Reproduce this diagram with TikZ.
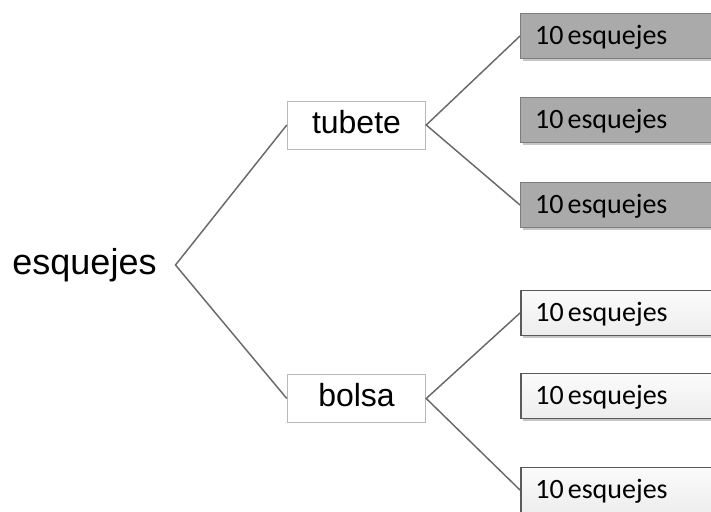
\documentclass[tikz,border=0pt]{standalone}
\usepackage{fontspec}
\setmainfont{Liberation Sans}
\newfontfamily\calibri{Carlito}
\usetikzlibrary{shadows}

\definecolor{linea}{RGB}{105,105,105}
\definecolor{grisoscuro}{RGB}{170,170,170}
\definecolor{bordeoscuro}{RGB}{125,125,125}
\definecolor{bordeclaro}{RGB}{90,90,90}

\begin{document}
\begin{tikzpicture}[x=0.75pt, y=-0.75pt]
	\tikzstyle{every node} = [text=black]
	\tikzstyle{raiz} = [inner xsep=14pt, inner ysep=0pt, text height=20pt, text depth=5.5pt, font=\fontsize{27}{30}\selectfont]
	\tikzstyle{rama} = [draw=gray!55, fill=white, line width=0.6pt, minimum width=104pt, minimum height=36pt, text height=17pt, text depth=5pt, font=\fontsize{24}{28}\selectfont]
	% tight word space in the leaf labels
	\tikzstyle{hoja} = [anchor=west, text width=127pt, align=left, inner xsep=11pt, minimum height=34pt, text height=16pt, text depth=3pt, font=\calibri\fontsize{21}{24}\selectfont, execute at begin node={\spaceskip=3pt\relax}, drop shadow={shadow xshift=1.5pt, shadow yshift=-1.5pt, opacity=0.45}]
	\tikzstyle{oscura} = [hoja, draw=bordeoscuro, fill=grisoscuro, line width=0.8pt]
	\tikzstyle{clara} = [hoja, draw=bordeclaro, top color=gray!3, bottom color=gray!14, line width=1.2pt]
	\useasboundingbox (0,0) rectangle (711,511);
	\node[raiz] (e) at (84.5,265) {esquejes};
	\node[rama] (tubete) at (356.5,125) {tubete};
	\node[rama] (bolsa) at (356.5,398.5) {bolsa};
	\node[oscura] (t1) at (520,36) {10 esquejes};
	\node[oscura] (t2) at (520,120) {10 esquejes};
	\node[oscura] (t3) at (520,205) {10 esquejes};
	\node[clara] (b1) at (520,313) {10 esquejes};
	\node[clara] (b2) at (520,396) {10 esquejes};
	\node[clara] (b3) at (520,490) {10 esquejes};
	\draw [-, linea, line width=1.1pt] (tubete.west)--(e.east)--(bolsa.west);
	\draw [-, linea, line width=1.1pt] (t1.west)--(tubete.east)--(t3.west);
	\draw [-, linea, line width=1.1pt] (b1.west)--(bolsa.east)--(b3.west);
\end{tikzpicture}
\end{document}
